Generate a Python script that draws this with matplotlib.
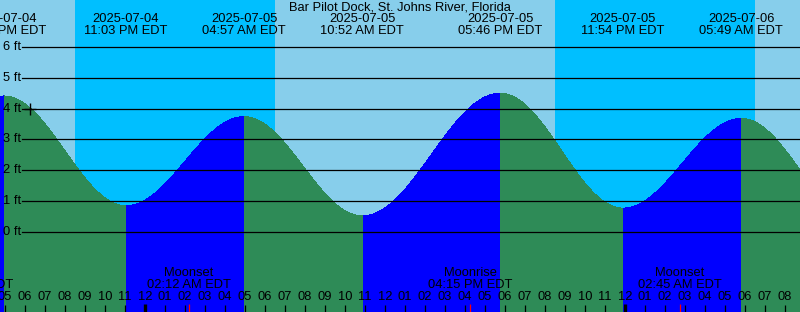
import matplotlib
matplotlib.use("Agg")
import matplotlib.pyplot as plt
import numpy as np
from datetime import datetime

# ---------------- data ----------------
title = "Bar Pilot Dock, St. Johns River, Florida"
tide_times = ["2025-07-04 10:50", "2025-07-04 16:57", "2025-07-04 23:03",
              "2025-07-05 04:57", "2025-07-05 10:52", "2025-07-05 17:46",
              "2025-07-05 23:54", "2025-07-06 05:49", "2025-07-06 11:50"]
tide_heights = [0.45, 4.41, 0.85, 3.74, 0.52, 4.50, 0.77, 3.68, 0.20]
night_starts = ["2025-07-04 20:30", "2025-07-05 20:30"]
night_ends = ["2025-07-05 06:30", "2025-07-06 06:30"]
moon_names = ["Moonrise", "Moonset", "Moonrise", "Moonset"]
moon_times = ["2025-07-04 15:18", "2025-07-05 02:12", "2025-07-05 16:15", "2025-07-06 02:45"]
ft_levels = [0, 1, 2, 3, 4, 5, 6]
marker_time = "2025-07-04 18:16"
marker_level = 4.0

# ---------------- style ----------------
DAY = "#87CEEB"
NIGHT = "#00BFFF"
RISE = "#0000FF"
FALL = "#2E8B57"
FONT = "Liberation Sans"
FS = 9.3

ref = datetime(2025, 7, 5, 0, 0)
def hrs(s):
    return (datetime.strptime(s, "%Y-%m-%d %H:%M") - ref).total_seconds() / 3600.0

W, H = 800, 312
PX_PER_HR = 20.0
X0 = 145.0          # pixel of midnight July 5
PX_PER_FT = 30.8
Y0 = 231.8          # pixel (from top) of 0 ft

xmin = (0 - X0) / PX_PER_HR
xmax = (W - X0) / PX_PER_HR
ytop = Y0 / PX_PER_FT
ybot = -(H - Y0) / PX_PER_FT

def ypx(p):   # pixel from top -> ft
    return ytop - p / PX_PER_FT
def xpx(p):
    return xmin + p / PX_PER_HR

fig = plt.figure(figsize=(W / 100, H / 100), dpi=100, facecolor=DAY)
ax = fig.add_axes([0, 0, 1, 1])
ax.set_xlim(xmin, xmax)
ax.set_ylim(ybot, ytop)
ax.axis("off")

# night shading
for s, e in zip(night_starts, night_ends):
    ax.axvspan(hrs(s), hrs(e), color=NIGHT, lw=0, zorder=0)

# tide curve (cosine between extremes)
th = np.array([hrs(t) for t in tide_times])
tv = np.array(tide_heights)
t = np.linspace(xmin, xmax, 4000)
idx = np.clip(np.searchsorted(th, t) - 1, 0, len(th) - 2)
f = (t - th[idx]) / (th[idx + 1] - th[idx])
h = tv[idx] + (tv[idx + 1] - tv[idx]) * (1 - np.cos(np.pi * f)) / 2
rising = tv[idx + 1] > tv[idx]
ax.fill_between(t, ybot, h, where=rising, color=RISE, lw=0, zorder=1,
                antialiased=False)
ax.fill_between(t, ybot, h, where=~rising, color=FALL, lw=0, zorder=1,
                antialiased=False)

# horizontal ft lines and labels
for lv in ft_levels:
    ax.plot([xpx(22), xmax], [lv, lv], color="black", lw=0.9, zorder=2)
    ax.text(xpx(3), lv, f"{lv} ft", ha="left", va="center",
            fontsize=FS, family=FONT, zorder=3)

# marker
ax.plot([hrs(marker_time)], [marker_level], marker="+", color="black",
        ms=8, mew=1.0, zorder=4)

# title
ax.text((xmin + xmax) / 2, ypx(7.5), title, ha="center", va="center",
        fontsize=FS, family=FONT, zorder=5)

# tide event labels
for tt in tide_times:
    d = datetime.strptime(tt, "%Y-%m-%d %H:%M")
    x = hrs(tt)
    ax.text(x, ypx(19.5), d.strftime("%Y-%m-%d"), ha="center", va="center",
            fontsize=FS, family=FONT, zorder=5)
    ax.text(x, ypx(31.5), d.strftime("%I:%M %p EDT"), ha="center", va="center",
            fontsize=FS, family=FONT, zorder=5)

# moon labels and red ticks
for name, mt in zip(moon_names, moon_times):
    d = datetime.strptime(mt, "%Y-%m-%d %H:%M")
    x = hrs(mt)
    ax.text(x, ypx(273.5), name, ha="center", va="center",
            fontsize=FS, family=FONT, zorder=5)
    ax.text(x, ypx(285.5), d.strftime("%I:%M %p EDT"), ha="center", va="center",
            fontsize=FS, family=FONT, zorder=5)
    ax.plot([x, x], [ypx(304), ybot], color="red", lw=0.9, zorder=6,
            solid_capstyle="butt")

# hour ticks and labels
for hr in range(int(np.ceil(xmin)), int(np.floor(xmax)) + 1):
    lab = (hr % 12) or 12
    ax.text(hr, ypx(297.5), f"{lab:02d}", ha="center", va="center",
            fontsize=FS, family=FONT, zorder=5)
    if hr % 24 == 0:
        ax.plot([hr, hr], [ypx(304), ybot], color="black", lw=2.4, zorder=5,
                solid_capstyle="butt")
    else:
        ax.plot([hr, hr], [ypx(305), ybot], color="black", lw=0.9, zorder=5,
                solid_capstyle="butt")

fig.savefig("out.png", dpi=100, facecolor=DAY)
